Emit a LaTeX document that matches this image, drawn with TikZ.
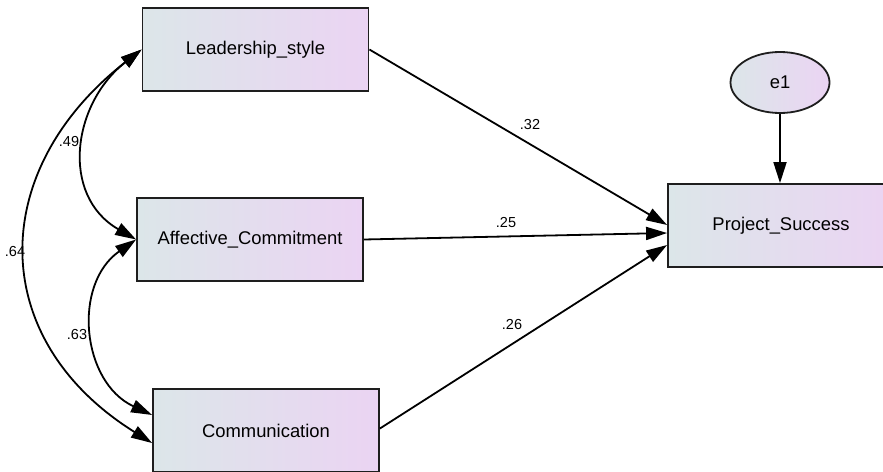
\documentclass[tikz,border=0pt]{standalone}
\usepackage{fontspec}
\setmainfont{Liberation Sans}
\usetikzlibrary{arrows.meta,shapes.geometric}
\definecolor{shadeL}{RGB}{220,230,233}
\definecolor{shadeR}{RGB}{235,212,243}
\definecolor{edge}{RGB}{30,30,30}
\tikzset{
  var/.style={rectangle, draw=edge, line width=1.8pt, left color=shadeL, right color=shadeR,
    minimum width=226pt, minimum height=83pt, inner sep=0pt,
    font=\fontsize{18.4}{22}\selectfont},
  err/.style={ellipse, draw=edge, line width=1.8pt, left color=shadeL, right color=shadeR,
    minimum width=99pt, minimum height=61pt, inner sep=0pt,
    font=\fontsize{18.4}{22}\selectfont},
  tip/.tip={Triangle[length=21pt,width=13pt]},
  path/.style={line width=1.8pt, -tip},
  cov/.style={line width=1.8pt, tip-tip},
  est/.style={inner sep=0pt, font=\fontsize{14.5}{17}\selectfont}
}
\begin{document}
\begin{tikzpicture}[x=1pt,y=1pt]
\useasboundingbox (0,0) rectangle (883,-471);
\clip (0,0) rectangle (883,-471);
\fill[white] (0,0) rectangle (883,-471);

% observed variables
\node[var] (L) at (255.5,-49.5) {Leadership\_style};
\node[var] (A) at (250,-239.5) {Affective\_Commitment};
\node[var] (C) at (266,-430.5) {Communication};
\node[var] (P) at (781,-225.5) {Project\_Success};
% error term
\node[err] (e) at (780,-82.5) {e1};

% regression paths
\draw[path] (L.east) -- ([yshift=0.5pt]P.west);
\draw[path] (A.east) -- ([yshift=-7.5pt]P.west);
\draw[path] ([yshift=2pt]C.east) -- ([yshift=-19.5pt]P.west);
\draw[path] (e.south) -- (e.south |- P.north);

% covariances
\draw[cov] (L.west) .. controls +(218:88) and +(150:88) .. (A.west);
\draw[cov] (A.west) .. controls +(215:78) and +(155:78) .. ([yshift=15.5pt]C.west);
\draw[cov] (L.west) .. controls +(218:196) and +(148:196) .. ([yshift=-12.5pt]C.west);

% estimates
\node[est] (b1) at (530,-125) {.32};
\node[est] (b2) at (506,-223) {.25};
\node[est] (b3) at (512,-325) {.26};
\node[est] (r1) at (69,-142) {.49};
\node[est] (r2) at (77,-335) {.63};
\node[est] (r3) at (15,-252) {.64};
\end{tikzpicture}
\end{document}
